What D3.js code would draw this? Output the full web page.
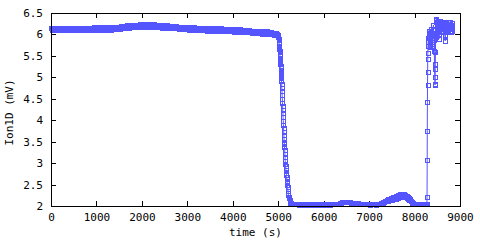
<!DOCTYPE html>
<html>
<head>
<meta charset="utf-8">
<script src="https://cdn.jsdelivr.net/npm/d3@7"></script>
<style>
  body { margin: 0; background: #fff; }
  text { font-family: "DejaVu Sans Mono", monospace; font-size: 11px; fill: #000; }
</style>
</head>
<body>
<div id="wrapper"></div>
<script>
// Data
// Slow sections are logged every 12.5 s: one row = 200 s
const SAMPLE_STEP = 12.5;
const plateauStart = 0;
const plateauValues = [
  6.16, 6.11, 6.14, 6.10, 6.15, 6.12, 6.16, 6.11, 6.13, 6.10, 6.15, 6.12, 6.16, 6.11, 6.14, 6.10, // 0
  6.15, 6.10, 6.14, 6.11, 6.16, 6.12, 6.15, 6.10, 6.14, 6.11, 6.16, 6.13, 6.15, 6.10, 6.13, 6.11, // 200
  6.16, 6.11, 6.13, 6.10, 6.15, 6.12, 6.16, 6.10, 6.14, 6.11, 6.15, 6.12, 6.16, 6.11, 6.14, 6.10, // 400
  6.15, 6.11, 6.14, 6.10, 6.16, 6.12, 6.15, 6.11, 6.13, 6.10, 6.16, 6.12, 6.15, 6.11, 6.14, 6.10, // 600
  6.16, 6.11, 6.15, 6.10, 6.16, 6.13, 6.16, 6.11, 6.14, 6.11, 6.16, 6.12, 6.17, 6.11, 6.15, 6.11, // 800
  6.17, 6.12, 6.15, 6.11, 6.16, 6.13, 6.17, 6.12, 6.14, 6.11, 6.16, 6.13, 6.17, 6.12, 6.15, 6.11, // 1000
  6.17, 6.12, 6.15, 6.11, 6.17, 6.13, 6.17, 6.12, 6.15, 6.11, 6.16, 6.13, 6.17, 6.12, 6.15, 6.12, // 1200
  6.18, 6.13, 6.16, 6.12, 6.17, 6.14, 6.18, 6.13, 6.16, 6.13, 6.18, 6.15, 6.19, 6.14, 6.17, 6.14, // 1400
  6.20, 6.15, 6.19, 6.15, 6.20, 6.17, 6.21, 6.16, 6.19, 6.16, 6.21, 6.18, 6.22, 6.17, 6.20, 6.17, // 1600
  6.23, 6.18, 6.21, 6.17, 6.22, 6.19, 6.23, 6.18, 6.21, 6.18, 6.23, 6.19, 6.24, 6.19, 6.22, 6.18, // 1800
  6.24, 6.19, 6.22, 6.18, 6.23, 6.20, 6.24, 6.19, 6.21, 6.18, 6.23, 6.20, 6.24, 6.19, 6.22, 6.18, // 2000
  6.24, 6.19, 6.22, 6.18, 6.23, 6.20, 6.24, 6.19, 6.21, 6.18, 6.23, 6.19, 6.23, 6.18, 6.21, 6.17, // 2200
  6.22, 6.17, 6.20, 6.16, 6.21, 6.18, 6.22, 6.17, 6.19, 6.16, 6.21, 6.18, 6.21, 6.16, 6.19, 6.15, // 2400
  6.20, 6.15, 6.18, 6.14, 6.19, 6.16, 6.20, 6.15, 6.17, 6.14, 6.19, 6.16, 6.19, 6.14, 6.17, 6.14, // 2600
  6.18, 6.13, 6.17, 6.13, 6.18, 6.14, 6.18, 6.13, 6.15, 6.12, 6.17, 6.14, 6.18, 6.13, 6.16, 6.12, // 2800
  6.17, 6.12, 6.15, 6.11, 6.16, 6.13, 6.17, 6.12, 6.14, 6.11, 6.16, 6.13, 6.17, 6.12, 6.15, 6.11, // 3000
  6.16, 6.11, 6.14, 6.10, 6.15, 6.12, 6.16, 6.11, 6.13, 6.10, 6.15, 6.12, 6.16, 6.11, 6.14, 6.10, // 3200
  6.15, 6.10, 6.13, 6.09, 6.14, 6.11, 6.15, 6.10, 6.12, 6.09, 6.14, 6.11, 6.15, 6.10, 6.13, 6.09, // 3400
  6.14, 6.09, 6.12, 6.08, 6.13, 6.10, 6.14, 6.09, 6.11, 6.08, 6.13, 6.10, 6.14, 6.09, 6.12, 6.08, // 3600
  6.13, 6.08, 6.11, 6.07, 6.12, 6.09, 6.13, 6.08, 6.10, 6.07, 6.12, 6.09, 6.13, 6.08, 6.11, 6.07, // 3800
  6.12, 6.07, 6.10, 6.06, 6.11, 6.08, 6.12, 6.07, 6.09, 6.06, 6.11, 6.08, 6.12, 6.07, 6.10, 6.06, // 4000
  6.11, 6.06, 6.09, 6.05, 6.10, 6.07, 6.10, 6.05, 6.08, 6.05, 6.10, 6.06, 6.10, 6.05, 6.09, 6.05, // 4200
  6.09, 6.04, 6.07, 6.03, 6.08, 6.05, 6.09, 6.04, 6.06, 6.03, 6.08, 6.05, 6.09, 6.04, 6.07, 6.03, // 4400
  6.07, 6.03, 6.06, 6.02, 6.07, 6.03, 6.07, 6.02, 6.05, 6.02, 6.07, 6.03, 6.07, 6.02, 6.05, 6.01, // 4600
  6.05, 6.01, 6.04, 6.00, 6.05, 6.01, 6.04, 6.00, 6.03, 5.99, 6.04, 6.00, 6.03, 5.99, 6.01, 5.98, // 4800
  5.97                                                                                            // 5000
];
// Fast drop: [time (s), Ion1D (mV)]
const drop = [
  [5005, 5.95], [5010, 5.90], [5015, 5.86], [5018, 5.82], [5020, 5.78], [5023, 5.74], [5025, 5.70], [5028, 5.66],
  [5030, 5.62], [5033, 5.58], [5035, 5.54], [5038, 5.50], [5040, 5.46], [5043, 5.42], [5045, 5.38], [5048, 5.34],
  [5050, 5.30], [5053, 5.26], [5055, 5.22], [5058, 5.18], [5060, 5.14], [5063, 5.10], [5065, 5.06], [5068, 5.02],
  [5070, 4.98], [5072, 4.92], [5076, 4.84], [5079, 4.75], [5083, 4.67], [5086, 4.58], [5090, 4.50], [5093, 4.41],
  [5097, 4.33], [5100, 4.24], [5104, 4.16], [5107, 4.07], [5111, 3.99], [5114, 3.90], [5118, 3.82], [5121, 3.73],
  [5125, 3.65], [5128, 3.56], [5132, 3.50], [5135, 3.44], [5138, 3.38], [5142, 3.30], [5146, 3.22], [5150, 3.14],
  [5154, 3.06], [5158, 2.98], [5162, 2.93], [5166, 2.88], [5170, 2.83], [5175, 2.78], [5180, 2.73], [5185, 2.68],
  [5190, 2.62], [5195, 2.56], [5200, 2.50], [5205, 2.45], [5210, 2.40], [5215, 2.35], [5220, 2.30], [5225, 2.26],
  [5230, 2.22], [5240, 2.18], [5250, 2.14], [5260, 2.11], [5270, 2.08], [5285, 2.06], [5300, 2.05], [5325, 2.05],
  [5350, 2.04], [5375, 2.05]
];
const floorStart = 5400;
const floorValues = [
  2.05, 2.04, 2.04, 2.05, 2.03, 2.04, 2.05, 2.04, 2.04, 2.05, 2.03, 2.04, 2.05, 2.04, 2.04, 2.05, // 5400
  2.04, 2.05, 2.03, 2.04, 2.05, 2.04, 2.04, 2.05, 2.05, 2.04, 2.04, 2.05, 2.03, 2.04, 2.05, 2.04, // 5600
  2.05, 2.04, 2.04, 2.05, 2.03, 2.04, 2.05, 2.04, 2.04, 2.05, 2.03, 2.04, 2.05, 2.04, 2.04, 2.05, // 5800
  2.04, 2.05, 2.03, 2.04, 2.05, 2.04, 2.04, 2.05, 2.05, 2.04, 2.04, 2.05, 2.03, 2.04, 2.05, 2.04, // 6000
  2.04, 2.05, 2.04, 2.04, 2.05, 2.04, 2.04, 2.05, 2.04, 2.05, 2.04, 2.05, 2.06, 2.07, 2.07, 2.08, // 6200
  2.09, 2.10, 2.09, 2.10, 2.10, 2.09, 2.10, 2.09, 2.10, 2.09, 2.10, 2.10, 2.09, 2.10, 2.09, 2.09, // 6400
  2.08, 2.07, 2.05, 2.04, 2.04, 2.05, 2.06, 2.07, 2.07, 2.07, 2.07, 2.06, 2.06, 2.05, 2.05, 2.04, // 6600
  2.04, 2.05, 2.04, 2.04, 2.05, 2.04, 2.04, 2.05, 2.04, 2.05, 2.04, 2.04, 2.05, 2.04, 2.04, 2.05, // 6800
  2.04, 2.05, 2.03, 2.04, 2.05, 2.04, 2.04, 2.05, 2.05, 2.04, 2.04, 2.05, 2.03, 2.04, 2.05, 2.04, // 7000
  2.04, 2.05, 2.04, 2.05, 2.05, 2.06, 2.06, 2.07, 2.08, 2.09, 2.09, 2.10, 2.11, 2.12, 2.12, 2.13, // 7200
  2.15, 2.12, 2.16, 2.13, 2.17, 2.14, 2.18, 2.14, 2.19, 2.15, 2.20, 2.16, 2.21, 2.17, 2.22, 2.17, // 7400
  2.24, 2.18, 2.25, 2.19, 2.26, 2.20, 2.27, 2.20, 2.28, 2.21, 2.28, 2.21, 2.28, 2.21, 2.27, 2.21, // 7600
  2.26, 2.20, 2.24, 2.18, 2.22, 2.16, 2.19, 2.14, 2.16, 2.11, 2.12, 2.09, 2.08, 2.06, 2.05, 2.05, // 7800
  2.04, 2.05, 2.04, 2.04, 2.05, 2.04, 2.04, 2.05, 2.04, 2.05, 2.04, 2.04, 2.05, 2.04, 2.04, 2.05, // 8000
  2.04, 2.05, 2.04, 2.05, 2.04                                                                    // 8200
];
// Recovery and noisy end: [time (s), Ion1D (mV)]
const recovery = [
  [8270, 2.05], [8275, 2.21], [8278, 3.07], [8280, 3.75], [8283, 4.42], [8285, 4.82], [8288, 5.12], [8290, 5.42],
  [8293, 5.56], [8295, 5.74], [8300, 5.83], [8305, 5.92], [8310, 6.01], [8315, 6.09], [8320, 6.03], [8325, 5.94],
  [8330, 5.85], [8335, 5.76], [8340, 5.70], [8345, 5.79], [8350, 5.88], [8355, 5.97], [8360, 6.06], [8365, 6.13],
  [8370, 6.05], [8375, 5.96], [8380, 5.87], [8385, 5.78], [8390, 5.72], [8395, 5.82], [8400, 5.92], [8405, 6.02],
  [8410, 6.12], [8415, 6.22], [8420, 6.10], [8425, 5.98], [8430, 5.86], [8435, 5.61], [8440, 5.30], [8445, 5.00],
  [8450, 4.82], [8452, 4.84], [8455, 5.20], [8460, 5.60], [8465, 5.95], [8470, 6.28], [8475, 6.34], [8480, 6.36],
  [8485, 6.26], [8490, 6.18], [8495, 6.10], [8500, 6.16], [8505, 6.24], [8510, 6.31], [8515, 6.22], [8520, 6.14],
  [8525, 6.06], [8530, 6.14], [8535, 6.00], [8540, 5.90], [8545, 6.08], [8550, 6.18], [8555, 6.26], [8560, 6.32],
  [8565, 6.24], [8570, 6.15], [8575, 6.07], [8580, 6.15], [8585, 6.23], [8590, 6.30], [8595, 6.22], [8600, 6.13],
  [8605, 6.05], [8610, 6.12], [8615, 6.21], [8620, 6.29], [8625, 6.20], [8630, 6.12], [8635, 6.05], [8640, 6.13],
  [8645, 6.22], [8650, 6.30], [8655, 6.23], [8660, 6.14], [8665, 6.06], [8670, 5.96], [8675, 5.85], [8680, 5.98],
  [8685, 6.08], [8690, 6.16], [8695, 6.25], [8700, 6.30], [8705, 6.22], [8710, 6.13], [8715, 6.05], [8720, 6.13],
  [8725, 6.22], [8730, 6.29], [8735, 6.21], [8740, 6.12], [8745, 6.05], [8750, 6.14], [8755, 6.23], [8760, 6.30],
  [8765, 6.22], [8770, 6.13], [8775, 6.06], [8780, 6.14], [8785, 6.22], [8790, 6.28], [8795, 6.20], [8800, 6.12],
  [8805, 6.06], [8810, 6.14], [8815, 6.22], [8820, 6.27], [8825, 6.16], [8830, 6.08]
];
const xTicks = [0, 1000, 2000, 3000, 4000, 5000, 6000, 7000, 8000, 9000];
const yTicks = [2, 2.5, 3, 3.5, 4, 4.5, 5, 5.5, 6, 6.5];
const xLabel = "time (s)";
const yLabel = "Ion1D (mV)";

const timeAccessor = d => d[0];
const valueAccessor = d => d[1];

const COLOR = "#5555ff";
const dimensions = {
  width: 480,
  height: 240,
  margin: { top: 13, right: 20, bottom: 34, left: 51 },
};
dimensions.boundedWidth = dimensions.width - dimensions.margin.left - dimensions.margin.right;
dimensions.boundedHeight = dimensions.height - dimensions.margin.top - dimensions.margin.bottom;

const sampled = (start, values) => values.map((v, i) => [start + i * SAMPLE_STEP, v]);

function drawChart() {
  const dataset = [
    ...sampled(plateauStart, plateauValues),
    ...drop,
    ...sampled(floorStart, floorValues),
    ...recovery,
  ];

  const svg = d3.select("#wrapper").append("svg")
    .attr("width", dimensions.width)
    .attr("height", dimensions.height);

  const bounds = svg.append("g")
    .attr("transform", `translate(${dimensions.margin.left},${dimensions.margin.top})`);

  const xScale = d3.scaleLinear().domain([0, 9000]).range([0, dimensions.boundedWidth]);
  const yScale = d3.scaleLinear().domain([2, 6.5]).range([dimensions.boundedHeight, 0]);

  // Ticks inside, on all four sides (gnuplot style)
  const tickLen = 5;
  const axisStyle = g => {
    g.select(".domain").remove();
    g.selectAll(".tick line").attr("stroke", "#000").attr("shape-rendering", "crispEdges");
  };
  bounds.append("g")
    .attr("transform", `translate(0,${dimensions.boundedHeight})`)
    .call(d3.axisBottom(xScale).tickValues(xTicks).tickSize(-tickLen).tickPadding(7).tickFormat(d3.format("d")))
    .call(axisStyle);
  bounds.append("g")
    .call(d3.axisTop(xScale).tickValues(xTicks).tickSize(-tickLen).tickFormat(""))
    .call(axisStyle);
  bounds.append("g")
    .call(d3.axisLeft(yScale).tickValues(yTicks).tickSize(-tickLen).tickPadding(8).tickFormat(d3.format("")))
    .call(axisStyle);
  bounds.append("g")
    .attr("transform", `translate(${dimensions.boundedWidth},0)`)
    .call(d3.axisRight(yScale).tickValues(yTicks).tickSize(-tickLen).tickFormat(""))
    .call(axisStyle);
  bounds.selectAll(".tick text").style("font-family", "DejaVu Sans Mono").style("font-size", "11px").attr("fill", "#000");

  // Line
  const line = d3.line().x(d => xScale(timeAccessor(d))).y(d => yScale(valueAccessor(d)));
  bounds.append("path")
    .datum(dataset)
    .attr("fill", "none")
    .attr("stroke", COLOR)
    .attr("stroke-width", 1)
    .attr("d", line);

  // Open square markers
  bounds.append("g").selectAll("rect")
    .data(dataset)
    .join("rect")
    .attr("x", d => Math.round(xScale(timeAccessor(d))) - 2)
    .attr("y", d => Math.round(yScale(valueAccessor(d))) - 2)
    .attr("width", 4)
    .attr("height", 4)
    .attr("fill", "none")
    .attr("stroke", COLOR)
    .attr("stroke-width", 1)
    .attr("transform", "translate(0.5,0.5)")
    .attr("shape-rendering", "crispEdges");

  // Border
  bounds.append("rect")
    .attr("x", 0.5).attr("y", 0.5)
    .attr("width", dimensions.boundedWidth)
    .attr("height", dimensions.boundedHeight)
    .attr("fill", "none")
    .attr("stroke", "#000")
    .attr("shape-rendering", "crispEdges");

  // Axis labels
  svg.append("text")
    .attr("x", dimensions.margin.left + dimensions.boundedWidth / 2)
    .attr("y", 236)
    .attr("text-anchor", "middle")
    .text(xLabel);
  svg.append("text")
    .attr("transform", `translate(13,${dimensions.margin.top + dimensions.boundedHeight / 2 + 3}) rotate(-90)`)
    .attr("text-anchor", "middle")
    .text(yLabel);
}
drawChart();
</script>
</body>
</html>
